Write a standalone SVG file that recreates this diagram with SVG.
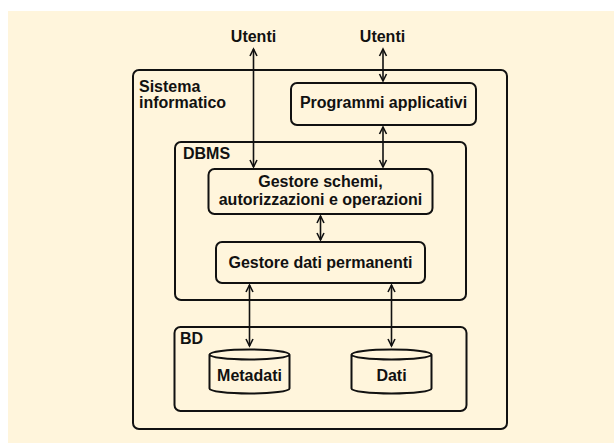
<svg xmlns="http://www.w3.org/2000/svg" width="614" height="443" viewBox="0 0 614 443">
<defs>
<style>
.box{fill:none;stroke:#111;stroke-width:2}
.t{font-family:"Liberation Sans",Arial,sans-serif;font-weight:bold;font-size:16px;fill:#111}
.c{text-anchor:middle}
.con{stroke:#111;stroke-width:1.6;fill:none;marker-start:url(#ah);marker-end:url(#ah)}
</style>
<marker id="ah" markerUnits="userSpaceOnUse" viewBox="-9 -5 11 10" refX="0" refY="0" markerWidth="11" markerHeight="10" orient="auto-start-reverse">
<path d="M-7,-3.5 L0,0 L-7,3.5" fill="none" stroke="#111" stroke-width="1.6"/>
</marker>
</defs>
<rect x="8" y="11" width="606" height="432" fill="#FFF5DC"/>
<g id="sistema">
<rect class="box" x="133" y="70" width="374" height="359" rx="6"/>
<text class="t" x="139" y="92">Sistema</text>
<text class="t" x="139" y="108">informatico</text>
</g>
<g id="utenti1"><text class="t c" x="253.5" y="42">Utenti</text></g>
<g id="utenti2"><text class="t c" x="382.5" y="42">Utenti</text></g>
<g id="programmi">
<rect class="box" x="291" y="83" width="185" height="42" rx="6"/>
<text class="t c" x="383.5" y="107.5">Programmi applicativi</text>
</g>
<g id="dbms">
<rect class="box" x="175" y="142" width="291" height="158" rx="6"/>
<text class="t" x="183" y="158.5">DBMS</text>
</g>
<g id="gestore-schemi">
<rect class="box" x="208.5" y="169" width="224" height="45" rx="6"/>
<text class="t c" x="320.5" y="187">Gestore schemi,</text>
<text class="t c" x="320.5" y="205">autorizzazioni e operazioni</text>
</g>
<g id="gestore-dati">
<rect class="box" x="216" y="242" width="209" height="41" rx="6"/>
<text class="t c" x="320.5" y="267.5">Gestore dati permanenti</text>
</g>
<g id="bd">
<rect class="box" x="174.5" y="327" width="292" height="84" rx="6"/>
<text class="t" x="180" y="343.5">BD</text>
</g>
<g id="metadati">
<path class="box" d="M209.5,354.5 A40,5 0 0 1 289.5,354.5 L289.5,388.5 A40,5 0 0 1 209.5,388.5 Z M209.5,354.5 A40,5 0 0 0 289.5,354.5"/>
<text class="t c" x="249.5" y="381">Metadati</text>
</g>
<g id="dati">
<path class="box" d="M351.5,354.5 A40,5 0 0 1 431.5,354.5 L431.5,388.5 A40,5 0 0 1 351.5,388.5 Z M351.5,354.5 A40,5 0 0 0 431.5,354.5"/>
<text class="t c" x="391.5" y="381">Dati</text>
</g>
<g id="connectors">
<line class="con" x1="253.5" y1="49" x2="253.5" y2="167"/>
<line class="con" x1="383" y1="49" x2="383" y2="81"/>
<line class="con" x1="383" y1="127" x2="383" y2="167"/>
<line class="con" x1="320.5" y1="216" x2="320.5" y2="240"/>
<line class="con" x1="249.5" y1="285" x2="249.5" y2="346"/>
<line class="con" x1="391.5" y1="285" x2="391.5" y2="346"/>
</g>
</svg>
